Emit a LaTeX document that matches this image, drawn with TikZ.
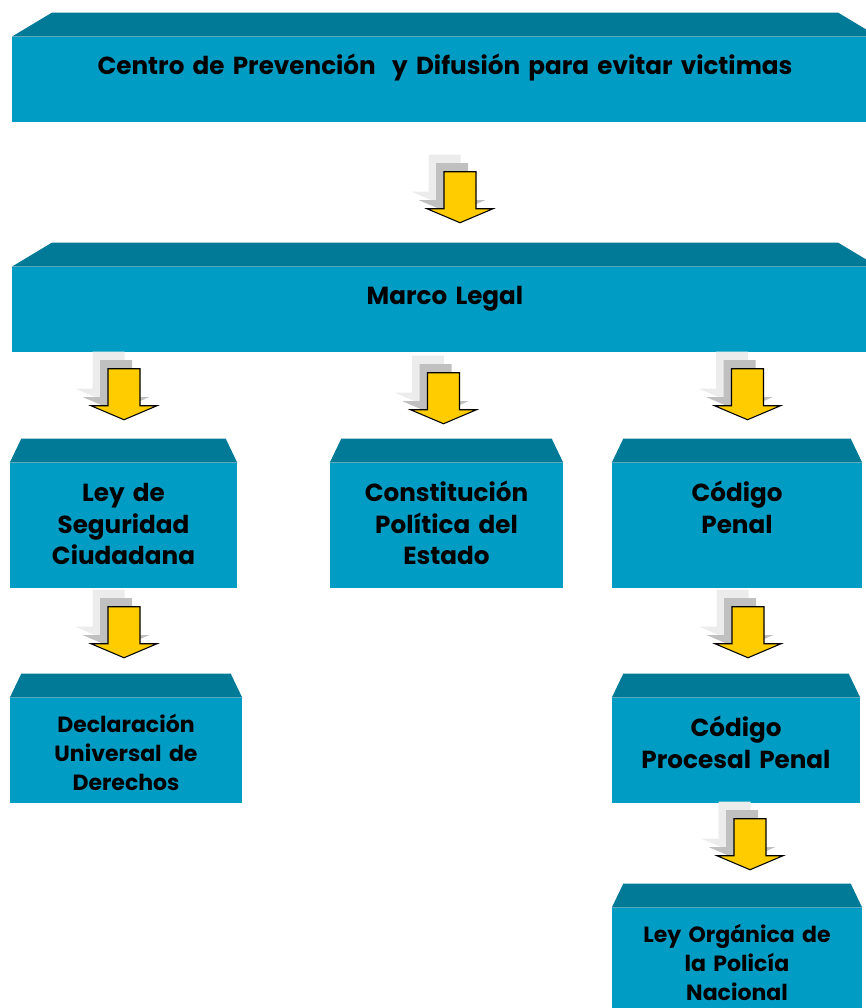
\documentclass[tikz,border=0pt]{standalone}
\usepackage{fontspec}
\setmainfont{Poppins}

\definecolor{frente}{RGB}{0,156,196}
\definecolor{tapa}{RGB}{0,122,150}
\definecolor{amarillo}{RGB}{255,204,0}
\definecolor{sombraA}{RGB}{192,192,192}
\definecolor{sombraB}{RGB}{236,236,236}

% forma de la flecha, punta en (0,0)
\def\formaflecha{(-16,-51) -- (16,-51) -- (16,-14) -- (33,-14) -- (0,0) -- (-33,-14) -- (-16,-14) -- cycle}

% cara superior de una caja
\def\tapa#1#2{
	\fill[tapa] (#1.north west) -- ([shift={(#2,-24)}]#1.north west) -- ([shift={(-#2,-24)}]#1.north east) -- (#1.north east) -- cycle;
}

\tikzset{
	caja/.style={rectangle, fill=frente, draw=none, inner sep=0pt},
	rotulo/.style={font=\bfseries\fontsize{18.5}{23.6}\selectfont, align=center, anchor=base, inner sep=0pt},
	chico/.style={font=\bfseries\fontsize{16.5}{21.75}\selectfont},
	flecha/.pic={
		\fill[sombraB, shift={(-15.5,-17)}] \formaflecha;
		\fill[sombraA, shift={(-8,-8.5)}] \formaflecha;
		\filldraw[fill=amarillo, draw=black, line width=0.8pt, line join=miter] \formaflecha;
	}
}

\begin{document}
\begin{tikzpicture}[x=0.75pt,y=-0.75pt]

\useasboundingbox (0,0) rectangle (866,1008);
\clip (0,0) rectangle (866,1008);

% cajas
\node[caja, minimum width=649.5pt, minimum height=63.75pt] (centro) at (445,79.5) {};
\node[caja, minimum width=649.5pt, minimum height=63.75pt] (marco) at (445,309.5) {};
\node[caja, minimum width=170.25pt, minimum height=93.75pt] (lsc) at (123.5,525.5) {};
\node[caja, minimum width=174.75pt, minimum height=93.75pt] (cpe) at (446.5,525.5) {};
\node[caja, minimum width=187.5pt, minimum height=93.75pt] (cp) at (737,525.5) {};
\node[caja, minimum width=174pt, minimum height=78.75pt] (dudh) at (126,750.5) {};
\node[caja, minimum width=186pt, minimum height=78.75pt] (cpp) at (736,750.5) {};
\node[caja, minimum width=187.5pt, minimum height=86.25pt] (lopn) at (737,965.5) {};

\tapa{centro}{40}
\tapa{marco}{40}
\tapa{lsc}{11.5}
\tapa{cpe}{11.5}
\tapa{cp}{11.5}
\tapa{dudh}{11.5}
\tapa{cpp}{11.5}
\tapa{lopn}{11.5}

% textos
\node[rotulo, text width=649.5pt] (t-centro) at ([shift={(0,38)}]centro.north) {Centro de Prevención\ \ y Difusión para evitar victimas};
\node[rotulo, text width=649.5pt] (t-marco) at ([shift={(0,38)}]marco.north) {Marco Legal};
\node[rotulo, text width=170.25pt] (t-lsc) at ([shift={(0,39)}]lsc.north) {Ley de\\Seguridad\\Ciudadana};
\node[rotulo, text width=174.75pt] (t-cpe) at ([shift={(0,39)}]cpe.north) {Constitución\\Política del\\Estado};
\node[rotulo, text width=187.5pt] (t-cp) at ([shift={(0,39)}]cp.north) {Código\\Penal};
\node[rotulo, chico, text width=174pt] (t-dudh) at ([shift={(0,35)}]dudh.north) {Declaración\\Universal de\\Derechos};
\node[rotulo, text width=186pt] (t-cpp) at ([shift={(0,39)}]cpp.north) {Código\\Procesal Penal};
\node[rotulo, chico, text width=187.5pt] (t-lopn) at ([shift={(0,35)}]lopn.north) {Ley Orgánica de\\la Policía\\Nacional};

% flechas
\pic at ([shift={(15,-44)}]marco.north) {flecha};   % centro -> marco
\pic at ([shift={(0.5,-43)}]lsc.north) {flecha};    % marco -> lsc
\pic at ([shift={(-3,-39)}]cpe.north) {flecha};     % marco -> cpe
\pic at ([shift={(10.5,-43)}]cp.north) {flecha};    % marco -> cp
\pic at ([shift={(-2,-40)}]dudh.north) {flecha};    % lsc -> dudh
\pic at ([shift={(12,-40)}]cpp.north) {flecha};     % cp -> cpp
\pic at ([shift={(13,-38)}]lopn.north) {flecha};    % cpp -> lopn

\end{tikzpicture}
\end{document}
